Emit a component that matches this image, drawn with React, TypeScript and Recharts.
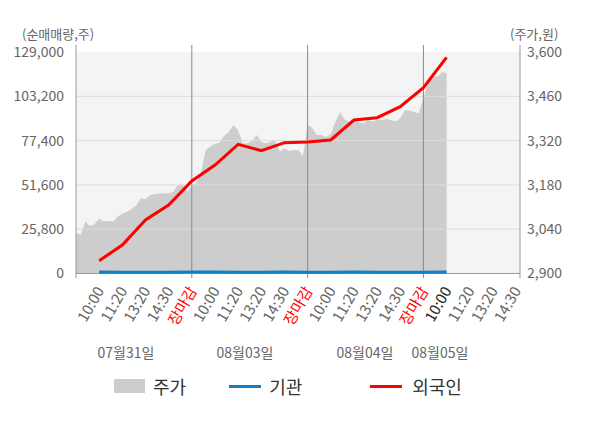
import { ComposedChart, Area, Line, XAxis, YAxis, ReferenceLine, ReferenceArea } from 'recharts';

// x-axis: one unit per published tick, price sampled 5 times per unit
const timeLabels = [
  '10:00', '11:20', '13:20', '14:30', '장마감',
  '10:00', '11:20', '13:20', '14:30', '장마감',
  '10:00', '11:20', '13:20', '14:30', '장마감',
  '10:00', '11:20', '13:20', '14:30',
];
const dayLabels = ['07월31일', '08월03일', '08월04일', '08월05일'];
const closeTicks = [5, 10, 15];
const currentTick = 16;
const samplesPerTick = 5;

// 주가 (원)
const priceSeries = [
  3028, 3022, 3064, 3050, 3056, 3074, 3064, 3066, 3064, 3079,
  3090, 3095, 3104, 3116, 3138, 3135, 3148, 3151, 3153, 3154,
  3153, 3158, 3180, 3181, 3158, 3177, 3186, 3221, 3290, 3301,
  3310, 3313, 3335, 3347, 3369, 3353, 3312, 3312, 3319, 3338,
  3316, 3311, 3317, 3322, 3285, 3295, 3287, 3290, 3290, 3271,
  3372, 3360, 3338, 3338, 3331, 3341, 3379, 3410, 3387, 3379,
  3385, 3379, 3374, 3385, 3380, 3385, 3385, 3388, 3385, 3380,
  3391, 3417, 3415, 3411, 3406, 3455, 3502, 3527, 3521, 3537,
  3534,
];

// 순매매량 (주), one value per tick 1..16
const foreignNet = [
  7450, 16600, 31160, 39900, 53900, 63190, 75250, 71520,
  76180, 76600, 77750, 89400, 90740, 97140, 108200, 125900,
];
const institutionNet = [
  820, 760, 800, 790, 830, 810, 780, 800,
  820, 790, 800, 810, 780, 800, 790, 810,
];

const leftTicks = [0, 25800, 51600, 77400, 103200, 129000];
const rightTicks = [2900, 3040, 3180, 3320, 3460, 3600];

const rows = priceSeries.map((price, i) => {
  const k = i % samplesPerTick === 0 ? i / samplesPerTick : 0;
  return {
    t: i / samplesPerTick,
    price,
    foreign: k >= 1 ? foreignNet[k - 1] : undefined,
    inst: k >= 1 ? institutionNet[k - 1] : undefined,
  };
});

const font = '"Noto Sans CJK KR", "Noto Sans", sans-serif';

const TimeTick = ({ x, y, payload }: any) => {
  const label = timeLabels[Math.round(payload.value) - 1];
  const color = label === '장마감' ? '#ff0000' : payload.value === currentTick ? '#222' : '#666';
  return (
    <g transform={`translate(${x + 1},${y + 10})`}>
      <text textAnchor="end" transform="rotate(-60)" dy="0.35em" fill={color} fontSize={15} fontFamily={font}>
        {label}
      </text>
    </g>
  );
};

const dayCenters = [126, 245, 365, 440];

export default function App() {
  return (
    <div style={{ position: 'absolute', left: 0, top: 0, width: 600, height: 428, background: '#fff', fontFamily: font }}>
      <div style={{ position: 'absolute', left: 22, top: 25, fontSize: 13, color: '#666', lineHeight: '18px' }}>(순매매량,주)</div>
      <div style={{ position: 'absolute', left: 510, top: 25, fontSize: 13, color: '#666', lineHeight: '18px' }}>(주가,원)</div>

      <ComposedChart width={600} height={428} data={rows} margin={{ top: 45, right: 20, left: 16, bottom: 90 }}>
        <XAxis
          dataKey="t"
          type="number"
          domain={[0, 19.17]}
          ticks={timeLabels.map((_, i) => i + 1)}
          interval={0}
          tick={<TimeTick />}
          tickLine={false}
          axisLine={false}
          tickSize={0}
          tickMargin={0}
          height={60}
        />
        <YAxis
          yAxisId="left"
          domain={[-2621, 133077]}
          ticks={leftTicks}
          allowDataOverflow
          tickFormatter={(v: number) => v.toLocaleString()}
          tick={{ fill: '#666', fontSize: 14, fontFamily: font }}
          tickLine={false}
          tickSize={0}
          tickMargin={12}
          axisLine={{ stroke: '#999' }}
          width={60}
        />
        <YAxis
          yAxisId="right"
          orientation="right"
          domain={[2885.8, 3622.1]}
          ticks={rightTicks}
          allowDataOverflow
          tickFormatter={(v: number) => v.toLocaleString()}
          tick={{ fill: '#666', fontSize: 14, fontFamily: font }}
          tickLine={false}
          tickSize={0}
          tickMargin={7}
          axisLine={{ stroke: '#999' }}
          width={60}
        />
        <ReferenceArea yAxisId="left" y1={0} y2={129000} fill="#f4f4f4" fillOpacity={1} stroke="none" ifOverflow="hidden" />
        <Area
          yAxisId="right"
          dataKey="price"
          type="linear"
          fill="#cdcdcd"
          fillOpacity={1}
          stroke="none"
          baseValue={2900}
          isAnimationActive={false}
          dot={false}
          activeDot={false}
        />
        {leftTicks.slice(1, -1).map((v) => (
          <ReferenceLine key={v} yAxisId="left" y={v} stroke="#dcdcdc" />
        ))}
        <ReferenceLine yAxisId="left" y={0} stroke="#999" />
        {closeTicks.map((t) => (
          <ReferenceLine key={t} yAxisId="left" x={t} stroke="#8a8a8a" />
        ))}
        <Line
          yAxisId="left"
          dataKey="inst"
          type="linear"
          stroke="#0c7fce"
          strokeWidth={3}
          dot={false}
          activeDot={false}
          connectNulls
          isAnimationActive={false}
        />
        <Line
          yAxisId="left"
          dataKey="foreign"
          type="linear"
          stroke="#ff0000"
          strokeWidth={3}
          dot={false}
          activeDot={false}
          connectNulls
          isAnimationActive={false}
        />
      </ComposedChart>

      {dayLabels.map((d, i) => (
        <div
          key={d}
          style={{ position: 'absolute', left: dayCenters[i], top: 343, transform: 'translateX(-50%)', fontSize: 14, color: '#666', lineHeight: '18px', whiteSpace: 'nowrap' }}
        >
          {d}
        </div>
      ))}

      <div style={{ position: 'absolute', left: 114, top: 374, height: 24, display: 'flex', alignItems: 'center', fontSize: 18, color: '#333' }}>
        <span style={{ display: 'inline-block', width: 31, height: 14, background: '#cdcdcd', marginRight: 8 }} />
        <span>주가</span>
        <span style={{ display: 'inline-block', width: 32, height: 3, background: '#0c7fce', marginLeft: 43, marginRight: 8 }} />
        <span>기관</span>
        <span style={{ display: 'inline-block', width: 32, height: 3, background: '#ff0000', marginLeft: 68, marginRight: 10 }} />
        <span>외국인</span>
      </div>
    </div>
  );
}
